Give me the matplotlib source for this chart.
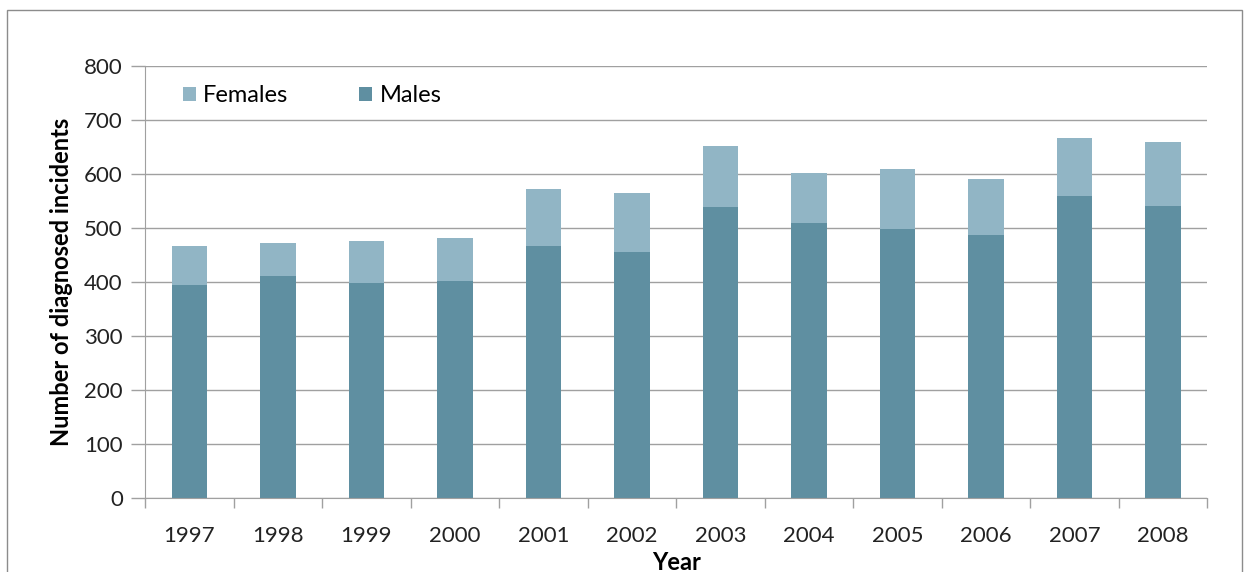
import numpy as np
import matplotlib
matplotlib.use('Agg')
import matplotlib.pyplot as plt
from matplotlib.patches import Rectangle

# diagnosed incidents per year, split by sex
years = ['1997', '1998', '1999', '2000', '2001', '2002',
         '2003', '2004', '2005', '2006', '2007', '2008']
males = [395, 412, 399, 402, 467, 455, 539, 510, 499, 487, 559, 541]
totals = [467, 473, 475, 481, 573, 565, 652, 602, 610, 591, 666, 660]
females = [t - m for t, m in zip(totals, males)]

c_male = '#5f8fa1'
c_female = '#91b5c5'
grid_c = '#a0a0a0'

plt.rcParams['font.family'] = ['Lato', 'DejaVu Sans']

fig = plt.figure(figsize=(12.47, 5.72), dpi=100)
ax = fig.add_axes([0.1163, 0.1294, 0.852, 0.7552])

# outer chart frame
fig.patches.append(Rectangle((7/1247, -0.05), (1242-7)/1247, 1.05 - 10/572,
                             transform=fig.transFigure, fill=False,
                             edgecolor='#8c8c8c', linewidth=1.0))

ind = np.arange(len(years))
ax.bar(ind, males, width=0.4, color=c_male, label='Males', zorder=2)
ax.bar(ind, females, width=0.4, bottom=males, color=c_female,
       label='Females', zorder=2)

ax.set_xlim(-0.5, len(years) - 0.5)
ax.set_ylim(0, 800)
ax.set_yticks(np.arange(0, 801, 100))
ax.tick_params(axis='y', labelsize=16, length=10, color=grid_c, width=1,
               pad=6, labelcolor='#222222')

ax.set_xticks(ind)
ax.set_xticklabels(years)
ax.tick_params(axis='x', which='major', length=0, labelsize=16, pad=20,
               labelcolor='#222222')
ax.set_xticks(np.arange(-0.5, len(years), 1.0), minor=True)
ax.tick_params(axis='x', which='minor', length=7, color=grid_c, width=1)

ax.grid(which='major', axis='y', color=grid_c, linewidth=1.0, zorder=0)
for s in ['top', 'right']:
    ax.spines[s].set_visible(False)
for s in ['left', 'bottom']:
    ax.spines[s].set_color(grid_c)

ax.set_ylabel('Number of diagnosed incidents', fontsize=17, fontweight='bold',
              labelpad=8)
ax.set_xlabel('Year', fontsize=17, fontweight='bold', labelpad=4)

h, l = ax.get_legend_handles_labels()
ax.legend(h[::-1], l[::-1], loc='upper left', bbox_to_anchor=(0.016, 1.005),
          ncol=2, frameon=False, fontsize=17, handlelength=0.55,
          handleheight=0.55, handletextpad=0.3, columnspacing=3.0)

plt.savefig('out.png', format='png')
